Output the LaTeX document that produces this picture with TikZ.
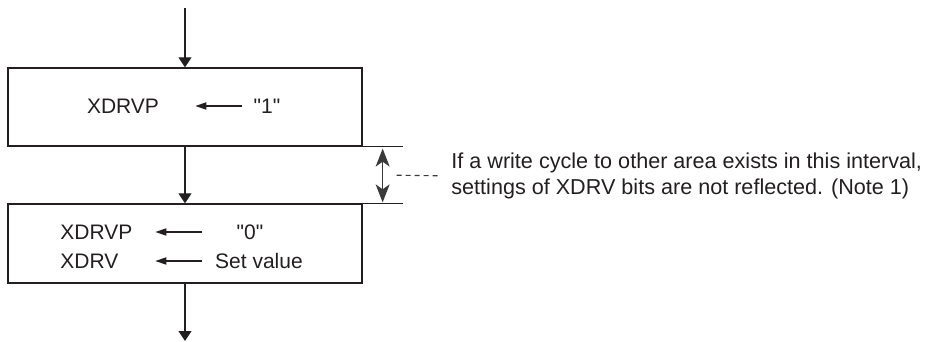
\documentclass[tikz,border=0pt]{standalone}
\usepackage{fontspec}
\setmainfont{Liberation Sans}[Ligatures=TeXOff]
\usetikzlibrary{arrows.meta,positioning,calc}
\usepackage{xcolor}
\definecolor{flowInk}{HTML}{231F20}
\definecolor{noteInk}{HTML}{3A3A3A}

\begin{document}
\begin{tikzpicture}[x=0.5pt,y=-0.5pt,>=Triangle]
\tikzstyle{stepbox}=[draw=flowInk,line width=.65pt,minimum width=177pt,minimum height=39pt,inner sep=0pt]
\tikzstyle{txt}=[inner sep=0pt,font=\fontsize{10.5}{13}\selectfont,text=flowInk]
\tikzstyle{flow}=[-{Triangle[length=5pt,width=6.5pt]},draw=flowInk,line width=.65pt]
\tikzstyle{assign}=[-{Triangle[length=5.5pt,width=3.6pt]},draw=flowInk,line width=.65pt]
\useasboundingbox (0,0) rectangle (933,342);
\node[stepbox] (setone) at (185,107) {};
\node[stepbox,minimum height=39.5pt] (setzero) at (185,243.5) {};
\coordinate (start) at (185,8);
\coordinate (finish) at (185,341);
\foreach \a/\b in {start/setone,setone/setzero,setzero/finish}{\draw[flow] (\a) -- (\b);}
% box contents
\node[txt] (xdrvpA) at (123,106) {XDRVP};
\node[txt] (one) at (267,106) {"1"};
\draw[assign,shorten >=18pt,shorten <=5.8pt] (one.west) -- (xdrvpA.east);
\node[txt,anchor=west] (xdrvpB) at (60,232) {XDRVP};
\node[txt] (zero) at (250,232) {"0"};
\node[txt,anchor=west] (xdrv) at (60,261) {XDRV};
\node[txt] (setval) at (259,261) {Set value};
\draw[assign,shorten >=11.3pt,shorten <=17.3pt] (zero.west) -- (xdrvpB.east);
\draw[assign,shorten >=18.3pt,shorten <=6.6pt] (setval.west) -- (xdrv.east);
% interval marker
\coordinate[right=20pt of setone.south east] (extA);
\coordinate[right=20pt of setzero.north east] (extB);
\draw[draw=flowInk,line width=.65pt] (setone.south east) -- (extA);
\draw[draw=flowInk,line width=.65pt] (setzero.north east) -- (extB);
\coordinate[right=10pt of setone.south east] (gapTop);
\coordinate[right=10pt of setzero.north east] (gapBot);
\draw[{Stealth[length=9pt,width=7pt,inset=2.5pt]}-{Stealth[length=9pt,width=7pt,inset=2.5pt]},draw=noteInk,line width=.6pt,shorten <=1pt,shorten >=.5pt] (gapTop) -- (gapBot);
\coordinate (gapMid) at ($(gapTop)!.5!(gapBot)$);
\node[txt,anchor=west,align=left,font=\fontsize{10.8}{13}\selectfont] (note) at (451,176) {If a write cycle to other area exists in this interval,\\settings of XDRV bits are not reflected. (Note 1)};
\draw[draw=noteInk,line width=.55pt,dash pattern=on 2.5pt off 2pt,shorten <=7pt,shorten >=5.5pt] (gapMid) -- (note.west);
\end{tikzpicture}
\end{document}
